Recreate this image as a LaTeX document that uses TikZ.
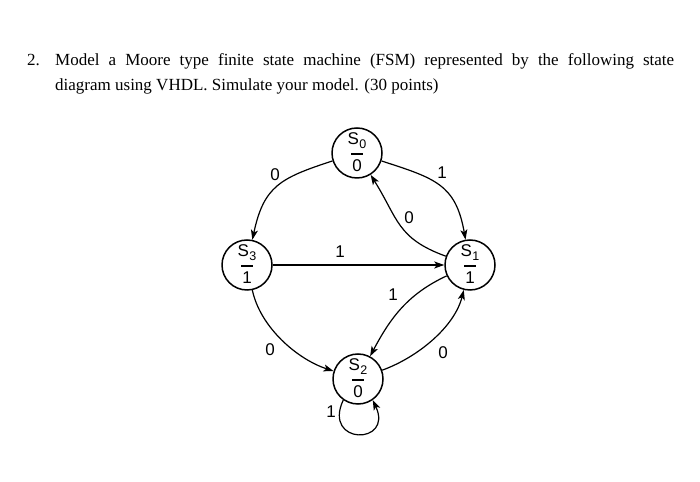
\documentclass[tikz,border=0pt]{standalone}
\usepackage{fontspec}
\setmainfont{Liberation Serif}
\newfontfamily\diagfont{Liberation Sans}
\usetikzlibrary{arrows.meta}
\tikzset{
  state/.style={circle,draw,line width=1.5pt,minimum size=50pt,inner sep=0pt},
  stname/.style={font=\diagfont\fontsize{17}{17}\selectfont,inner sep=0pt,anchor=base},
  stval/.style={font=\diagfont\fontsize{17}{17}\selectfont,inner sep=0pt,anchor=base},
  stbar/.style={line width=1.2pt},
  trans/.style={line width=1.2pt,-{Stealth[length=10pt,width=7pt,inset=2.5pt]}},
  lbl/.style={font=\diagfont\fontsize{17}{17}\selectfont,inner sep=0pt},
  txt/.style={font=\fontsize{17}{20}\selectfont,inner sep=0pt,anchor=base west}
}
\newcommand{\mkstate}[4]{%
  \node[state] (#1) at (#2) {};
  \node[stname] (#1n) at ([yshift=8pt]#1.center) {S\kern0.5pt\raisebox{-4pt}{\fontsize{12.5}{12.5}\selectfont #3}};
  \node[stval] (#1v) at ([yshift=-19pt]#1.center) {#4};
  \draw[stbar] ([xshift=-6pt,yshift=-1pt]#1.center) -- ([xshift=6pt,yshift=-1pt]#1.center);
}
\begin{document}
\begin{tikzpicture}[x=1pt,y=1pt]
\useasboundingbox (0,0) rectangle (700,481);
\fill[white] (0,0) rectangle (700,481);
% question text
\node[txt] (num) at (27,415) {2.};
\node[txt] (line1) at (55,415) {\makebox[619pt][s]{Model a Moore type finite state machine (FSM) represented by the following state}};
\node[txt] (line2) at (55,390) {diagram using VHDL. Simulate your model. (30 points)};
% states
\mkstate{S0}{357,328}{0}{0}
\mkstate{S3}{247,216}{3}{1}
\mkstate{S1}{470,216}{1}{1}
\mkstate{S2}{358,102}{2}{0}
% transitions
\draw[trans] (S0) to[out=-18,in=100,looseness=1.25] (S1);
\draw[trans] (S0) to[out=-162,in=78,looseness=1.25] (S3);
\draw[trans] (S3) to[out=-78,in=162,looseness=0.85] (S2);
\draw[trans] (S2) to[out=20,in=-104,looseness=0.85] (S1);
\draw[trans] (S1) to[out=160,in=-58,looseness=1.2] (S0);
\draw[trans] (S1) to[out=-155,in=62] (S2);
\draw[trans] (S3) -- (S1);
\draw[trans] (S2.-125) .. controls +(-115:50) and +(-65:50) .. (S2.-55);
% labels
\node[lbl] (l03) at (275,306) {0};
\node[lbl] (l01) at (442,308) {1};
\node[lbl] (l10) at (409,263) {0};
\node[lbl] (l31) at (340,229) {1};
\node[lbl] (l12) at (393,186) {1};
\node[lbl] (l32) at (270,131) {0};
\node[lbl] (l21) at (443,128) {0};
\node[lbl] (l22) at (331,69) {1};
\end{tikzpicture}
\end{document}
